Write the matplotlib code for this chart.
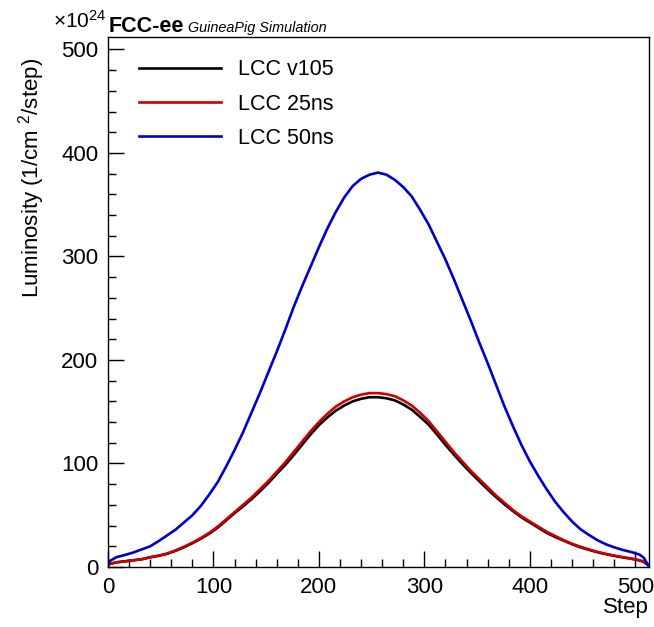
import matplotlib
matplotlib.use("Agg")
import matplotlib.pyplot as plt
from matplotlib.ticker import MultipleLocator

plt.rcParams['font.family'] = ['Liberation Sans', 'DejaVu Sans']
plt.rcParams['mathtext.default'] = 'regular'

# values (units of 1e24 / cm^2 / step)
steps = [0, 2, 8, 16, 24, 32, 40, 48, 56, 64, 72, 80, 88, 96, 104, 112, 120, 128,
         136, 144, 152, 160, 168, 176, 184, 192, 200, 208, 216, 224, 232, 240, 248,
         256, 264, 272, 280, 288, 296, 304, 312, 320, 328, 336, 344, 352, 360, 368,
         376, 384, 392, 400, 408, 416, 424, 432, 440, 448, 456, 464, 472, 480, 488,
         496, 504, 508, 512]
lcc_v105 = [2, 3, 4.5, 5.5, 6.5, 7.5, 9.3, 10.8, 12.7, 15.6, 19, 23, 27.3, 32.2, 38, 45,
            52, 58.5, 65.5, 73, 81, 90, 98.5, 108, 118, 128, 137, 144.5, 151, 156, 160,
            162.5, 164, 164, 163, 161, 157, 152, 145, 137.5, 128, 118, 108.5, 99.5, 91,
            83, 75, 67.5, 60.5, 54, 48, 43, 38, 33, 29, 25.5, 22, 19, 16.6, 14.3, 12.4,
            10.8, 9.3, 8, 6.4, 5, 2]
lcc_25ns = [2, 3, 4.5, 5.5, 6.5, 7.5, 9.5, 11, 13, 16, 19.5, 23.5, 28, 33, 39, 46,
            53, 60, 67, 75, 83, 92, 101, 111, 121, 131, 140, 148, 155, 160, 164,
            166.5, 168, 168, 167, 165, 161, 156, 149, 141, 131, 121, 111, 102, 93,
            85, 77, 69, 62, 55, 49, 44, 39, 34, 30, 26, 22.5, 19.5, 17, 14.6, 12.7,
            11, 9.5, 8.2, 6.5, 5, 2]
lcc_50ns = [2, 6, 9.5, 11.6, 14, 17, 20, 25, 30.5, 36, 43, 50, 59, 70, 82, 97,
            113, 130, 149, 168, 188, 208, 229, 251, 271, 290, 309, 327, 343, 357, 368,
            375, 379, 381, 379, 374, 367, 358, 345, 331, 314, 297, 278, 258, 238,
            217, 197, 176, 155, 136, 118, 102, 88, 75, 63, 53, 44, 36.5, 31, 26, 22,
            19, 16.5, 14.5, 12, 9, 2]

labels = ['LCC v105', 'LCC 25ns', 'LCC 50ns']
colors = ['black', '#cc0000', '#0000cc']

fig = plt.figure(figsize=(6.54, 6.27), dpi=100)
ax = fig.add_axes([108 / 654, 60 / 627, 541 / 654, 530 / 627])

for ys, lab, c in zip([lcc_v105, lcc_25ns, lcc_50ns], labels, colors):
    ax.plot(steps, ys, color=c, lw=1.9, label=lab)

ax.set_xlim(0, 513)
ax.set_ylim(0, 512)
ax.xaxis.set_major_locator(MultipleLocator(100))
ax.xaxis.set_minor_locator(MultipleLocator(20))
ax.yaxis.set_major_locator(MultipleLocator(100))
ax.yaxis.set_minor_locator(MultipleLocator(20))
ax.tick_params(which='both', direction='in', top=False, right=False,
               labelsize=16, pad=7, width=1)
ax.tick_params(which='major', length=11.5)
ax.tick_params(which='minor', length=5.8)
for s in ax.spines.values():
    s.set_linewidth(1)

fig.text(649 / 654, 1 - 608 / 627, 'Step', ha='right', va='center', fontsize=16)
fig.text(32 / 654, 1 - 178 / 627, 'Luminosity (1/cm $^{2}$/step)', rotation=90,
         ha='center', va='center', fontsize=16)

fig.text(53 / 654, 1 - 28 / 627, r'$\times$10$^{24}$', ha='left', va='baseline', fontsize=15)
fig.text(109 / 654, 1 - 32 / 627, 'FCC-ee', ha='left', va='baseline', fontsize=15.5,
         fontweight='bold')
fig.text(188 / 654, 1 - 32 / 627, 'GuineaPig Simulation', ha='left', va='baseline',
         fontsize=10.4, style='italic')

ax.legend(loc='upper left', bbox_to_anchor=(0.057, 0.958), frameon=False, fontsize=15.5,
          handlelength=3.8, handletextpad=0.8, labelspacing=0.62, borderpad=0,
          borderaxespad=0)

fig.savefig('out.png', dpi=100)
